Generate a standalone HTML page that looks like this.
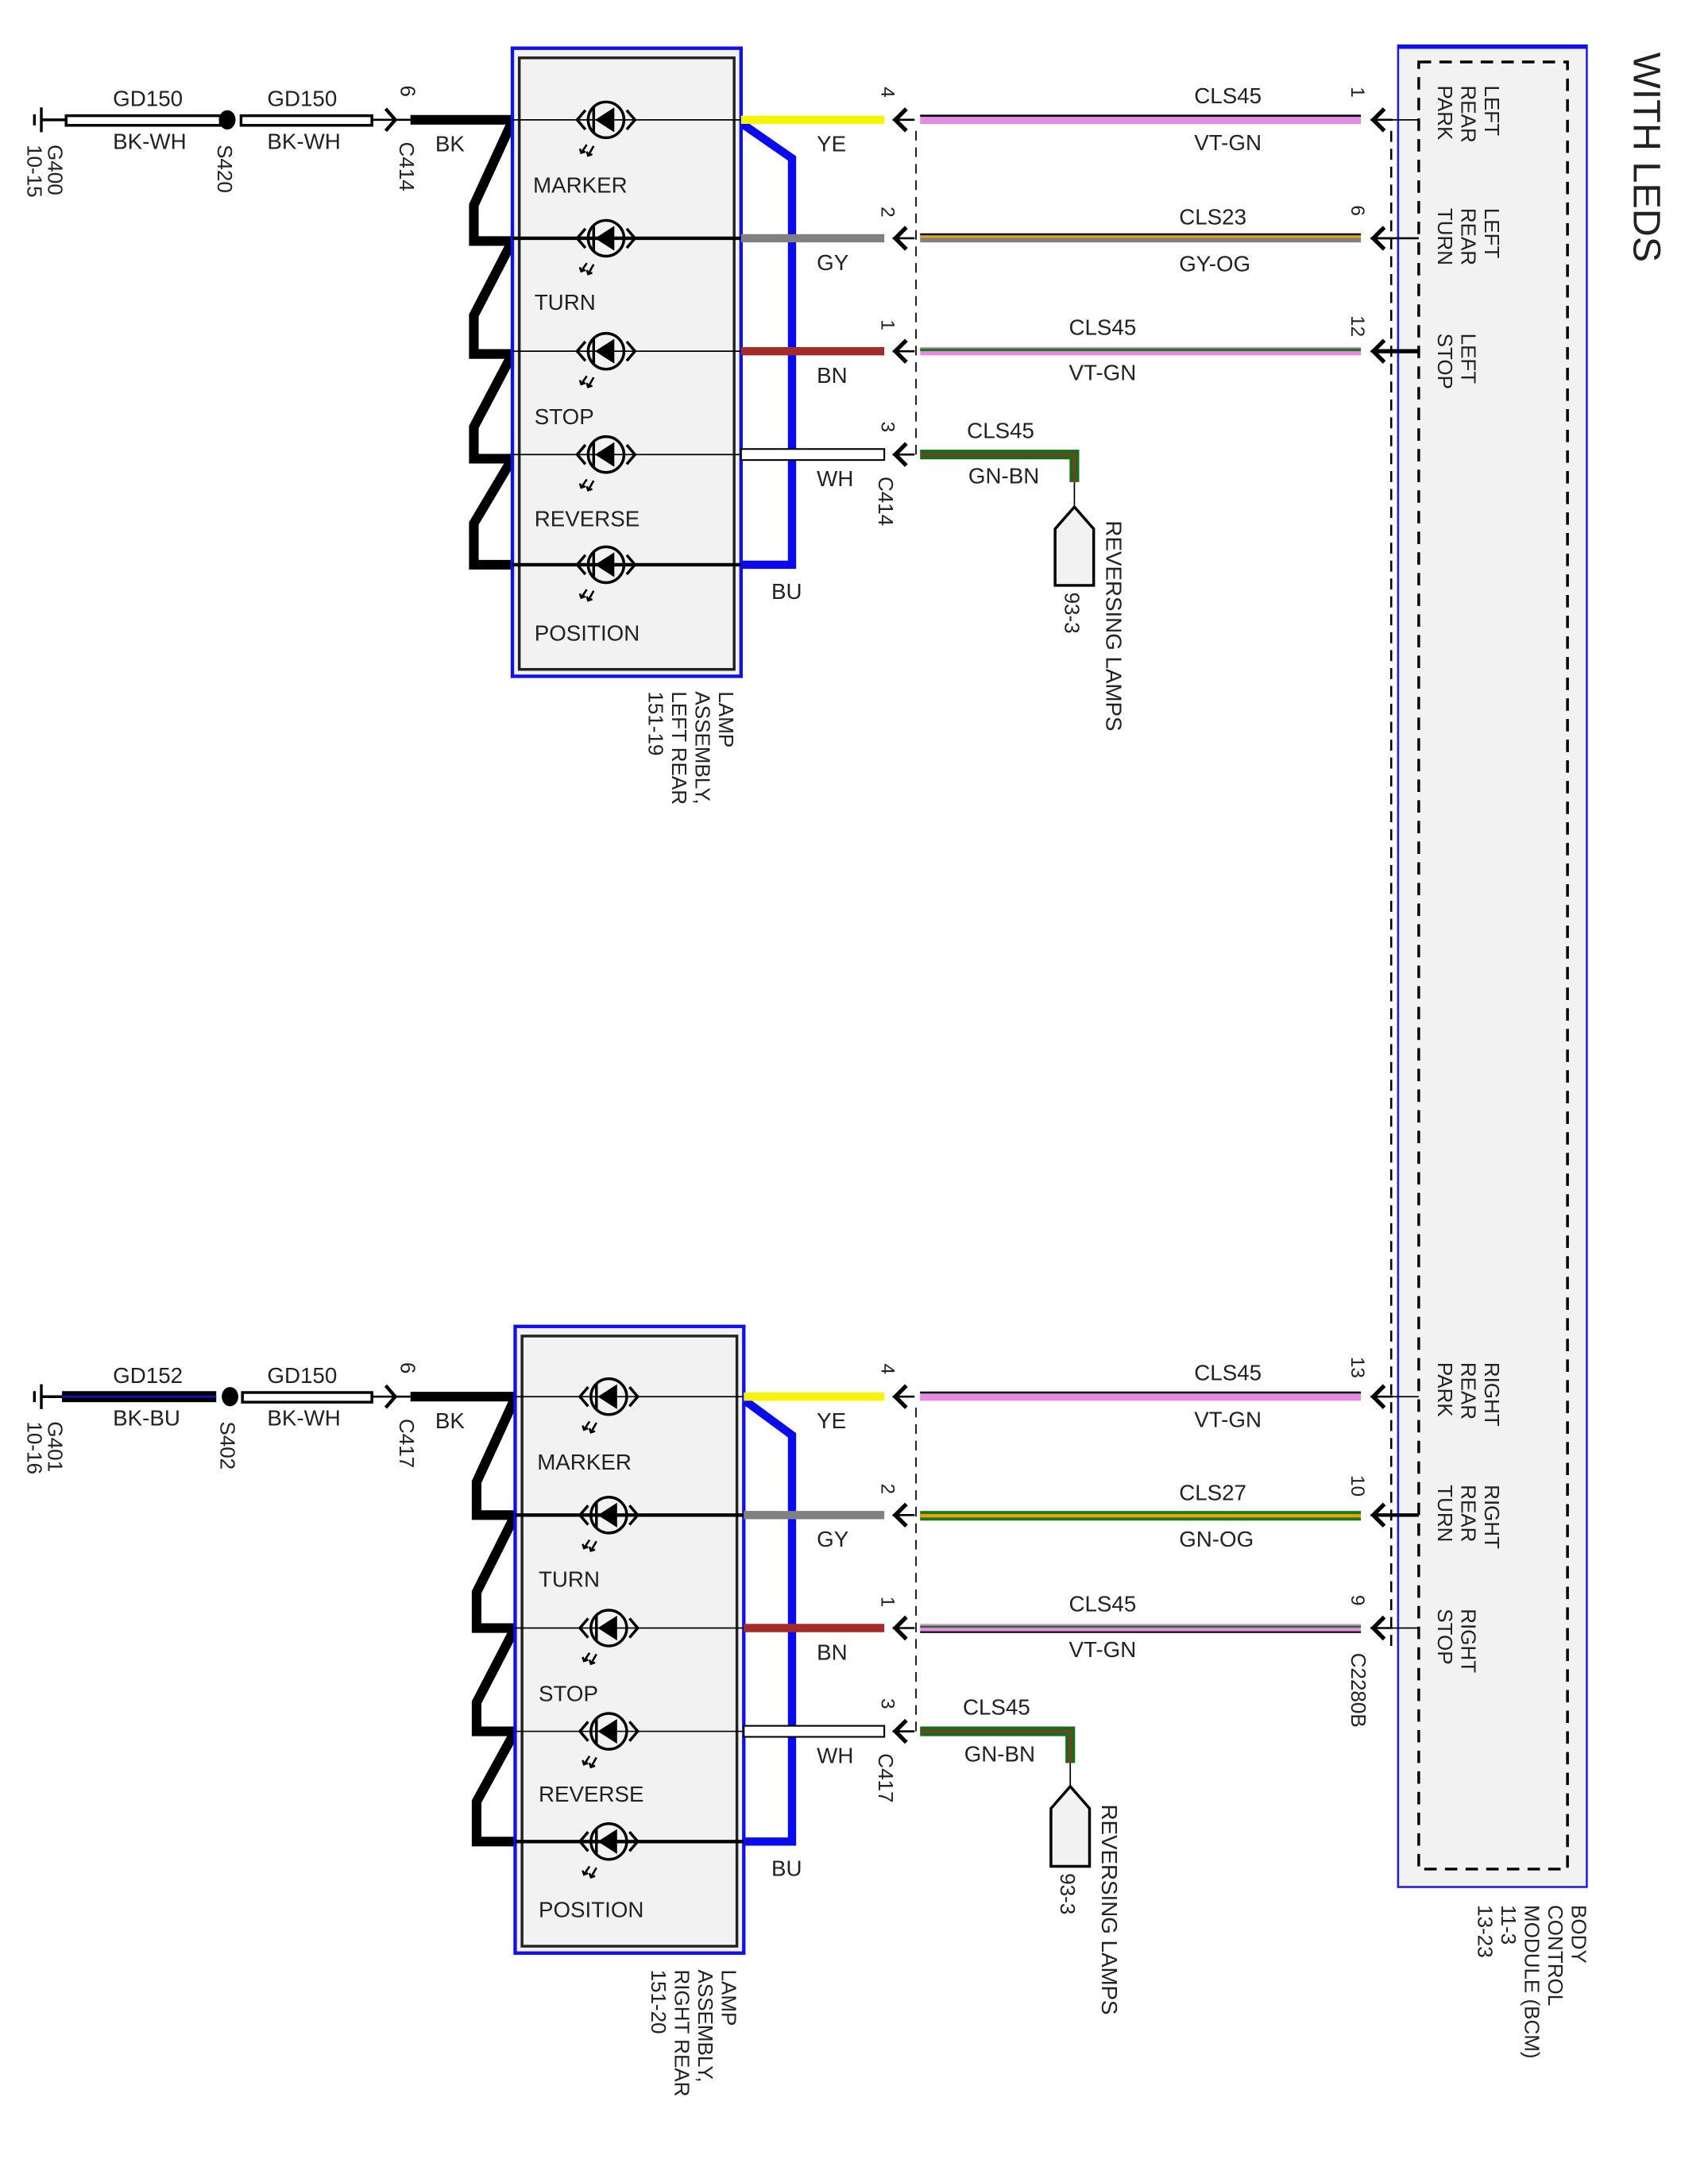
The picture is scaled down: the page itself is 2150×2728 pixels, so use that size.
<!DOCTYPE html>
<html><head><meta charset="utf-8"><style>
html,body{margin:0;padding:0;background:#fff;}
svg{display:block;}
text{font-family:"Liberation Sans",Arial,sans-serif;fill:#222;}
</style></head><body>
<svg width="2150" height="2728" viewBox="0 0 1240 1573.3" preserveAspectRatio="none" xmlns="http://www.w3.org/2000/svg">
<defs>
<g id="led">
  <circle cx="0" cy="0" r="13" fill="none" stroke="#000" stroke-width="2"/>
  <polygon points="-8,0 6,-9 6,9" fill="#000"/>
  <line x1="-9" y1="-9" x2="-9" y2="9" stroke="#000" stroke-width="2"/>
  <polyline points="-15,-7 -21,0 -15,7" fill="none" stroke="#000" stroke-width="2"/>
  <polyline points="15,-7 21,0 15,7" fill="none" stroke="#000" stroke-width="2"/>
  <g stroke="#000" stroke-width="1.5" fill="none">
    <line x1="-14" y1="18" x2="-18" y2="24"/><line x1="-9" y1="19" x2="-13" y2="26"/>
    <polyline points="-19,21 -18,24 -15,23"/><polyline points="-14,23 -13,26 -10,25"/>
  </g>
</g>
<g id="cin">
  <polyline points="6,-8 -2,0 6,8" fill="none" stroke="#000" stroke-width="3"/>
  <line x1="-4" y1="0" x2="12" y2="0" stroke="#000" stroke-width="1.5"/>
</g>
</defs>

<!-- WITH LEDS -->
<text transform="translate(1186,38) rotate(90)" font-size="28">WITH LEDS</text>

<!-- BCM box -->
<rect x="1015" y="33" width="137" height="1337" fill="#f2f2f2" stroke="#2020dd" stroke-width="1.5"/>
<line x1="1015" y1="34" x2="1152" y2="34" stroke="#1010ee" stroke-width="3"/>
<rect x="1030" y="45" width="108" height="1312" fill="none" stroke="#000" stroke-width="2" stroke-dasharray="9,6"/>
<line x1="1010" y1="95" x2="1010" y2="1195" stroke="#000" stroke-width="1.5" stroke-dasharray="8,5"/>

<g font-size="15">
<text transform="translate(1078,62) rotate(90)">LEFT</text>
<text transform="translate(1061,62) rotate(90)">REAR</text>
<text transform="translate(1044,62) rotate(90)">PARK</text>
<text transform="translate(1078,151) rotate(90)">LEFT</text>
<text transform="translate(1061,151) rotate(90)">REAR</text>
<text transform="translate(1044,151) rotate(90)">TURN</text>
<text transform="translate(1061,242) rotate(90)">LEFT</text>
<text transform="translate(1044,242) rotate(90)">STOP</text>
<text transform="translate(1078,989) rotate(90)">RIGHT</text>
<text transform="translate(1061,989) rotate(90)">REAR</text>
<text transform="translate(1044,989) rotate(90)">PARK</text>
<text transform="translate(1078,1078) rotate(90)">RIGHT</text>
<text transform="translate(1061,1078) rotate(90)">REAR</text>
<text transform="translate(1044,1078) rotate(90)">TURN</text>
<text transform="translate(1061,1168) rotate(90)">RIGHT</text>
<text transform="translate(1044,1168) rotate(90)">STOP</text>
<text transform="translate(1141,1383) rotate(90)">BODY</text>
<text transform="translate(1124,1383) rotate(90)">CONTROL</text>
<text transform="translate(1107,1383) rotate(90)">MODULE (BCM)</text>
<text transform="translate(1090,1383) rotate(90)">11-3</text>
<text transform="translate(1073,1383) rotate(90)">13-23</text>
<text transform="translate(981,1200) rotate(90)">C2280B</text>
</g>

<!-- SECTION TEMPLATE: top -->
<g id="secTop">
</g>

<!-- ================= TOP ================= -->
<g font-size="16">
<!-- ground -->
<line x1="30" y1="78" x2="30" y2="96" stroke="#000" stroke-width="2"/>
<line x1="25" y1="83" x2="25" y2="91" stroke="#000" stroke-width="2"/>
<line x1="30" y1="87" x2="48" y2="87" stroke="#000" stroke-width="2"/>
<text transform="translate(35,105) rotate(90)" font-size="15">G400</text>
<text transform="translate(20,105) rotate(90)" font-size="15">10-15</text>
<rect x="48" y="84" width="112" height="7" fill="#fff" stroke="#000" stroke-width="2"/>
<text x="82" y="77">GD150</text><text x="82" y="108">BK-WH</text>
<ellipse cx="165" cy="87" rx="6" ry="7" fill="#000"/>
<text transform="translate(158,105) rotate(90)" font-size="15">S420</text>
<rect x="175" y="84" width="95" height="7" fill="#fff" stroke="#000" stroke-width="2"/>
<text x="194" y="77">GD150</text><text x="194" y="108">BK-WH</text>
<polyline points="280,79 287,87 280,95" fill="none" stroke="#000" stroke-width="2.5"/>
<line x1="270" y1="87" x2="298" y2="87" stroke="#000" stroke-width="1.5"/>
<text transform="translate(291,62) rotate(90)" font-size="15">6</text>
<text transform="translate(290,103) rotate(90)" font-size="15">C414</text>
<line x1="298" y1="87" x2="372" y2="87" stroke="#000" stroke-width="7"/>
<text x="316" y="110">BK</text>
<!-- zigzag -->
<polyline points="372,88 344,149 344,175 372,175 344,229 344,257 372,257 344,310 344,333 372,333 344,380 344,410 372,410" fill="none" stroke="#000" stroke-width="7" stroke-linejoin="miter"/>
<!-- lamp box -->
<rect x="372" y="35" width="166" height="456" fill="#f2f2f2" stroke="#1010ee" stroke-width="2.5"/>
<rect x="377" y="42" width="156" height="444" fill="none" stroke="#222" stroke-width="2"/>
<line x1="372" y1="87" x2="538" y2="87" stroke="#000" stroke-width="1"/>
<line x1="372" y1="173" x2="538" y2="173" stroke="#000" stroke-width="2.5"/>
<line x1="372" y1="255" x2="538" y2="255" stroke="#000" stroke-width="1"/>
<line x1="372" y1="330" x2="538" y2="330" stroke="#000" stroke-width="1"/>
<line x1="372" y1="410" x2="538" y2="410" stroke="#000" stroke-width="2.5"/>
<use href="#led" x="440" y="87"/><use href="#led" x="440" y="173"/><use href="#led" x="440" y="255"/><use href="#led" x="440" y="330"/><use href="#led" x="440" y="410"/>
<text x="387" y="140">MARKER</text><text x="388" y="225">TURN</text><text x="388" y="308">STOP</text><text x="388" y="382">REVERSE</text><text x="388" y="465">POSITION</text>
<g font-size="15">
<text transform="translate(522,502) rotate(90)">LAMP</text>
<text transform="translate(505,502) rotate(90)">ASSEMBLY,</text>
<text transform="translate(488,502) rotate(90)">LEFT REAR</text>
<text transform="translate(471,502) rotate(90)">151-19</text>
</g>
<!-- right wires -->
<polyline points="539,90 575,115 575,410 538,410" fill="none" stroke="#0a0aee" stroke-width="6"/>
<line x1="538" y1="87" x2="642" y2="87" stroke="#f5f500" stroke-width="6"/>
<line x1="538" y1="173" x2="642" y2="173" stroke="#808080" stroke-width="6"/>
<line x1="538" y1="255" x2="642" y2="255" stroke="#a52a2a" stroke-width="6"/>
<rect x="538" y="326" width="104" height="8" fill="#fff" stroke="#000" stroke-width="1.2"/>
<text x="593" y="110">YE</text><text x="593" y="196">GY</text><text x="593" y="278">BN</text><text x="593" y="353">WH</text><text x="560" y="435">BU</text>
<use href="#cin" x="652" y="87"/><use href="#cin" x="652" y="173"/><use href="#cin" x="652" y="255"/><use href="#cin" x="652" y="330"/>
<g font-size="14">
<text transform="translate(640,63) rotate(90)">4</text>
<text transform="translate(640,150) rotate(90)">2</text>
<text transform="translate(640,232) rotate(90)">1</text>
<text transform="translate(640,306) rotate(90)">3</text>
<text transform="translate(638,346) rotate(90)" font-size="15">C414</text>
<text transform="translate(981,63) rotate(90)">1</text>
<text transform="translate(981,149) rotate(90)">6</text>
<text transform="translate(981,229) rotate(90)">12</text>
</g>
<line x1="665" y1="95" x2="665" y2="330" stroke="#000" stroke-width="1" stroke-dasharray="7,5"/>
<!-- long wires -->
<rect x="668" y="84" width="320" height="6" fill="#e58ae5"/><line x1="668" y1="84" x2="988" y2="84" stroke="#000" stroke-width="1.5"/>
<rect x="668" y="170" width="320" height="6" fill="#808080"/><line x1="668" y1="172" x2="988" y2="172" stroke="#f0a000" stroke-width="1.5"/><line x1="668" y1="170" x2="988" y2="170" stroke="#000" stroke-width="1.2"/>
<rect x="668" y="252" width="320" height="6" fill="#e58ae5"/><line x1="668" y1="254" x2="988" y2="254" stroke="#1a7a1a" stroke-width="2"/>
<text x="867" y="75">CLS45</text><text x="867" y="109">VT-GN</text>
<text x="856" y="163">CLS23</text><text x="856" y="197">GY-OG</text>
<text x="776" y="243">CLS45</text><text x="776" y="276">VT-GN</text>
<polyline points="668,330 780,330 780,350" fill="none" stroke="#1a6a1a" stroke-width="7"/>
<polyline points="668,330 780,330 780,350" fill="none" stroke="#a52a2a" stroke-width="1.2"/>
<text x="702" y="318">CLS45</text><text x="703" y="351">GN-BN</text>
<line x1="780" y1="350" x2="780" y2="368" stroke="#000" stroke-width="1"/>
<polygon points="780,368 794,384 794,425 766,425 766,384" fill="#f2f2f2" stroke="#000" stroke-width="2"/>
<text transform="translate(773,430) rotate(90)" font-size="15">93-3</text>
<text transform="translate(803,378) rotate(90)" font-size="16">REVERSING LAMPS</text>
<use href="#cin" x="999" y="87"/><use href="#cin" x="999" y="173"/><use href="#cin" x="999" y="255"/>
<line x1="1000" y1="87" x2="1030" y2="87" stroke="#000" stroke-width="1"/>
<line x1="1000" y1="173" x2="1030" y2="173" stroke="#000" stroke-width="1.5"/>
<line x1="1000" y1="255" x2="1030" y2="255" stroke="#000" stroke-width="3"/>
</g>

<!-- ================= BOTTOM ================= -->
<g font-size="16">
<line x1="30" y1="1005" x2="30" y2="1023" stroke="#000" stroke-width="2"/>
<line x1="25" y1="1010" x2="25" y2="1018" stroke="#000" stroke-width="2"/>
<line x1="30" y1="1014" x2="45" y2="1014" stroke="#000" stroke-width="2"/>
<text transform="translate(35,1032) rotate(90)" font-size="15">G401</text>
<text transform="translate(20,1032) rotate(90)" font-size="15">10-16</text>
<rect x="45" y="1010" width="112" height="8" fill="#000"/><line x1="45" y1="1014" x2="157" y2="1014" stroke="#1010cc" stroke-width="1.5"/>
<text x="82" y="1004">GD152</text><text x="82" y="1035">BK-BU</text>
<ellipse cx="167" cy="1014" rx="6" ry="7" fill="#000"/>
<text transform="translate(160,1032) rotate(90)" font-size="15">S402</text>
<rect x="176" y="1011" width="94" height="7" fill="#fff" stroke="#000" stroke-width="2"/>
<text x="194" y="1004">GD150</text><text x="194" y="1035">BK-WH</text>
<polyline points="280,1006 287,1014 280,1022" fill="none" stroke="#000" stroke-width="2.5"/>
<line x1="270" y1="1014" x2="298" y2="1014" stroke="#000" stroke-width="1.5"/>
<text transform="translate(291,989) rotate(90)" font-size="15">6</text>
<text transform="translate(290,1030) rotate(90)" font-size="15">C417</text>
<line x1="298" y1="1014" x2="374" y2="1014" stroke="#000" stroke-width="7"/>
<text x="316" y="1037">BK</text>
<polyline points="374,1015 346,1076 346,1100 374,1100 346,1156 346,1182 374,1182 346,1236 346,1257 374,1257 346,1308 346,1337 374,1337" fill="none" stroke="#000" stroke-width="7"/>
<rect x="374" y="963" width="166" height="455" fill="#f2f2f2" stroke="#1010ee" stroke-width="2.5"/>
<rect x="379" y="970" width="156" height="443" fill="none" stroke="#222" stroke-width="2"/>
<line x1="374" y1="1014" x2="540" y2="1014" stroke="#000" stroke-width="1"/>
<line x1="374" y1="1100" x2="540" y2="1100" stroke="#000" stroke-width="2.5"/>
<line x1="374" y1="1182" x2="540" y2="1182" stroke="#000" stroke-width="1"/>
<line x1="374" y1="1257" x2="540" y2="1257" stroke="#000" stroke-width="1"/>
<line x1="374" y1="1337" x2="540" y2="1337" stroke="#000" stroke-width="2.5"/>
<use href="#led" x="442" y="1014"/><use href="#led" x="442" y="1100"/><use href="#led" x="442" y="1182"/><use href="#led" x="442" y="1257"/><use href="#led" x="442" y="1337"/>
<text x="390" y="1067">MARKER</text><text x="391" y="1152">TURN</text><text x="391" y="1235">STOP</text><text x="391" y="1308">REVERSE</text><text x="391" y="1392">POSITION</text>
<g font-size="15">
<text transform="translate(524,1430) rotate(90)">LAMP</text>
<text transform="translate(507,1430) rotate(90)">ASSEMBLY,</text>
<text transform="translate(490,1430) rotate(90)">RIGHT REAR</text>
<text transform="translate(473,1430) rotate(90)">151-20</text>
</g>
<polyline points="541,1017 575,1042 575,1337 540,1337" fill="none" stroke="#0a0aee" stroke-width="6"/>
<line x1="540" y1="1014" x2="642" y2="1014" stroke="#f5f500" stroke-width="6"/>
<line x1="540" y1="1100" x2="642" y2="1100" stroke="#808080" stroke-width="6"/>
<line x1="540" y1="1182" x2="642" y2="1182" stroke="#a52a2a" stroke-width="6"/>
<rect x="540" y="1253" width="102" height="8" fill="#fff" stroke="#000" stroke-width="1.2"/>
<text x="593" y="1037">YE</text><text x="593" y="1123">GY</text><text x="593" y="1205">BN</text><text x="593" y="1280">WH</text><text x="560" y="1362">BU</text>
<use href="#cin" x="652" y="1014"/><use href="#cin" x="652" y="1100"/><use href="#cin" x="652" y="1182"/><use href="#cin" x="652" y="1257"/>
<g font-size="14">
<text transform="translate(640,990) rotate(90)">4</text>
<text transform="translate(640,1077) rotate(90)">2</text>
<text transform="translate(640,1159) rotate(90)">1</text>
<text transform="translate(640,1233) rotate(90)">3</text>
<text transform="translate(638,1273) rotate(90)" font-size="15">C417</text>
<text transform="translate(981,985) rotate(90)">13</text>
<text transform="translate(981,1071) rotate(90)">10</text>
<text transform="translate(981,1158) rotate(90)">9</text>
</g>
<line x1="665" y1="1022" x2="665" y2="1257" stroke="#000" stroke-width="1" stroke-dasharray="7,5"/>
<rect x="668" y="1011" width="320" height="6" fill="#e58ae5"/><line x1="668" y1="1011" x2="988" y2="1011" stroke="#000" stroke-width="1.5"/>
<rect x="668" y="1097" width="320" height="7" fill="#1a7a1a"/><line x1="668" y1="1100.5" x2="988" y2="1100.5" stroke="#f0a000" stroke-width="2.5"/>
<rect x="668" y="1179" width="320" height="6" fill="#e58ae5"/><line x1="668" y1="1181" x2="988" y2="1181" stroke="#1a7a1a" stroke-width="1.5"/><line x1="668" y1="1185" x2="988" y2="1185" stroke="#000" stroke-width="1.2"/>
<text x="867" y="1002">CLS45</text><text x="867" y="1036">VT-GN</text>
<text x="856" y="1089">CLS27</text><text x="856" y="1123">GN-OG</text>
<text x="776" y="1170">CLS45</text><text x="776" y="1203">VT-GN</text>
<polyline points="668,1257 777,1257 777,1280" fill="none" stroke="#1a6a1a" stroke-width="7"/>
<polyline points="668,1257 777,1257 777,1280" fill="none" stroke="#a52a2a" stroke-width="1.2"/>
<text x="699" y="1245">CLS45</text><text x="700" y="1279">GN-BN</text>
<line x1="777" y1="1280" x2="777" y2="1297" stroke="#000" stroke-width="1"/>
<polygon points="777,1297 791,1313 791,1355 763,1355 763,1313" fill="#f2f2f2" stroke="#000" stroke-width="2"/>
<text transform="translate(770,1360) rotate(90)" font-size="15">93-3</text>
<text transform="translate(800,1310) rotate(90)" font-size="16">REVERSING LAMPS</text>
<use href="#cin" x="999" y="1014"/><use href="#cin" x="999" y="1100"/><use href="#cin" x="999" y="1182"/>
<line x1="1000" y1="1014" x2="1030" y2="1014" stroke="#000" stroke-width="1"/>
<line x1="1000" y1="1100" x2="1030" y2="1100" stroke="#000" stroke-width="2.5"/>
<line x1="1000" y1="1182" x2="1030" y2="1182" stroke="#000" stroke-width="1"/>
</g>
</svg>
</body></html>
